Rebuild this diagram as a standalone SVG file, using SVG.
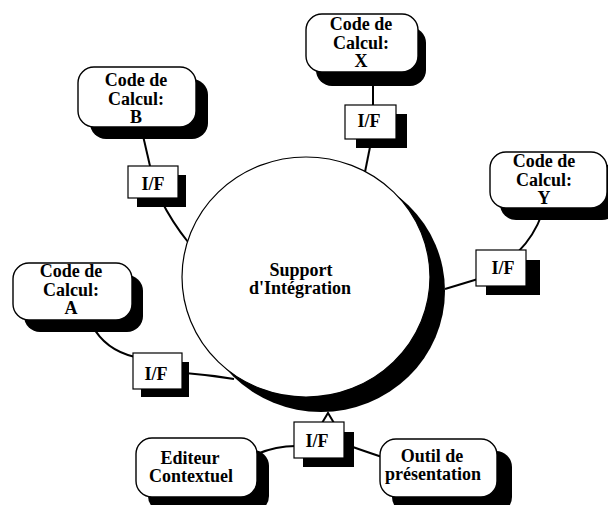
<svg xmlns="http://www.w3.org/2000/svg" width="608" height="505" viewBox="0 0 608 505">
  <style>
    .shadow { fill: #000; stroke: none; }
    .box { fill: #fff; stroke: #000; stroke-width: 1.4; }
    .iface { fill: #fff; stroke: #000; stroke-width: 1.2; }
    .core { fill: #fff; stroke: #000; stroke-width: 1.2; }
    .link { fill: none; stroke: #000; stroke-width: 2; }
    text { font-family: "Liberation Serif", "Times New Roman", serif; font-weight: bold; font-size: 18px; fill: #000; text-anchor: middle; }
  </style>
  <rect width="608" height="505" fill="#fff"/>

  <!-- connectors -->
  <g id="connectors">
    <path class="link" d="M141,127 L150,166"/>
    <path class="link" d="M161,200 Q172,222 188,242"/>
    <path class="link" d="M373,80 L373,105"/>
    <path class="link" d="M371,142 L365,172"/>
    <path class="link" d="M542,214 Q534,236 518,252"/>
    <path class="link" d="M478,279 L445,289"/>
    <path class="link" d="M92,325 Q105,350 135,357"/>
    <path class="link" d="M185,373 Q210,375 234,379"/>
    <polyline class="link" points="322,423 328,413 334,423"/>
    <path class="link" d="M257,454 Q276,446 296,446"/>
    <path class="link" d="M350,446 Q364,451 382,457"/>
  </g>

  <!-- central support -->
  <g id="support">
    <ellipse class="shadow" cx="321" cy="291" rx="124" ry="121"/>
    <ellipse class="core" cx="306" cy="277" rx="124" ry="120"/>
    <text x="301" y="276">Support</text>
    <text x="300" y="294">d'Intégration</text>
  </g>

  <!-- computation codes -->
  <g id="code-b">
    <rect class="shadow" x="90" y="79" width="118" height="60" rx="16"/>
    <rect class="box" x="78" y="67" width="118" height="60" rx="16"/>
    <text x="136" y="86">Code de</text>
    <text x="136" y="105">Calcul:</text>
    <text x="136" y="123">B</text>
  </g>
  <g id="code-x">
    <rect class="shadow" x="316" y="27" width="110" height="59" rx="16"/>
    <rect class="box" x="306" y="14" width="112" height="58" rx="16"/>
    <text x="361" y="30">Code de</text>
    <text x="361" y="49">Calcul:</text>
    <text x="361" y="67">X</text>
  </g>
  <g id="code-y">
    <rect class="shadow" x="500" y="164" width="118" height="56" rx="16"/>
    <rect class="box" x="490" y="152" width="117" height="56" rx="16"/>
    <text x="544" y="167">Code de</text>
    <text x="544" y="186">Calcul:</text>
    <text x="544" y="204">Y</text>
  </g>
  <g id="code-a">
    <rect class="shadow" x="24" y="275" width="119" height="57" rx="16"/>
    <rect class="box" x="13" y="263" width="119" height="57" rx="16"/>
    <text x="71" y="277">Code de</text>
    <text x="71" y="296">Calcul:</text>
    <text x="71" y="314">A</text>
  </g>

  <!-- tools -->
  <g id="editeur">
    <rect class="shadow" x="148" y="450" width="121" height="62" rx="16"/>
    <rect class="box" x="136" y="438" width="121" height="59" rx="16"/>
    <text x="190" y="464">Editeur</text>
    <text x="191" y="482">Contextuel</text>
  </g>
  <g id="outil">
    <rect class="shadow" x="392" y="451" width="120" height="62" rx="16"/>
    <rect class="box" x="380" y="439" width="117" height="58" rx="16"/>
    <text x="432" y="462">Outil de</text>
    <text x="433" y="480">présentation</text>
  </g>

  <!-- interfaces -->
  <g id="if-b">
    <rect class="shadow" x="137" y="175" width="49" height="32"/>
    <rect class="iface" x="128" y="166" width="50" height="32"/>
    <text x="153" y="190">I/F</text>
  </g>
  <g id="if-x">
    <rect class="shadow" x="356" y="114" width="51" height="34"/>
    <rect class="iface" x="345" y="105" width="51" height="34"/>
    <text x="369" y="127">I/F</text>
  </g>
  <g id="if-y">
    <rect class="shadow" x="486" y="260" width="54" height="35"/>
    <rect class="iface" x="476" y="250" width="50" height="36"/>
    <text x="503" y="274">I/F</text>
  </g>
  <g id="if-a">
    <rect class="shadow" x="141" y="362" width="48" height="35"/>
    <rect class="iface" x="133" y="353" width="49" height="36"/>
    <text x="156" y="380">I/F</text>
  </g>
  <g id="if-bottom">
    <rect class="shadow" x="303" y="432" width="51" height="35"/>
    <rect class="iface" x="294" y="422" width="50" height="36"/>
    <text x="317" y="447">I/F</text>
  </g>
</svg>
